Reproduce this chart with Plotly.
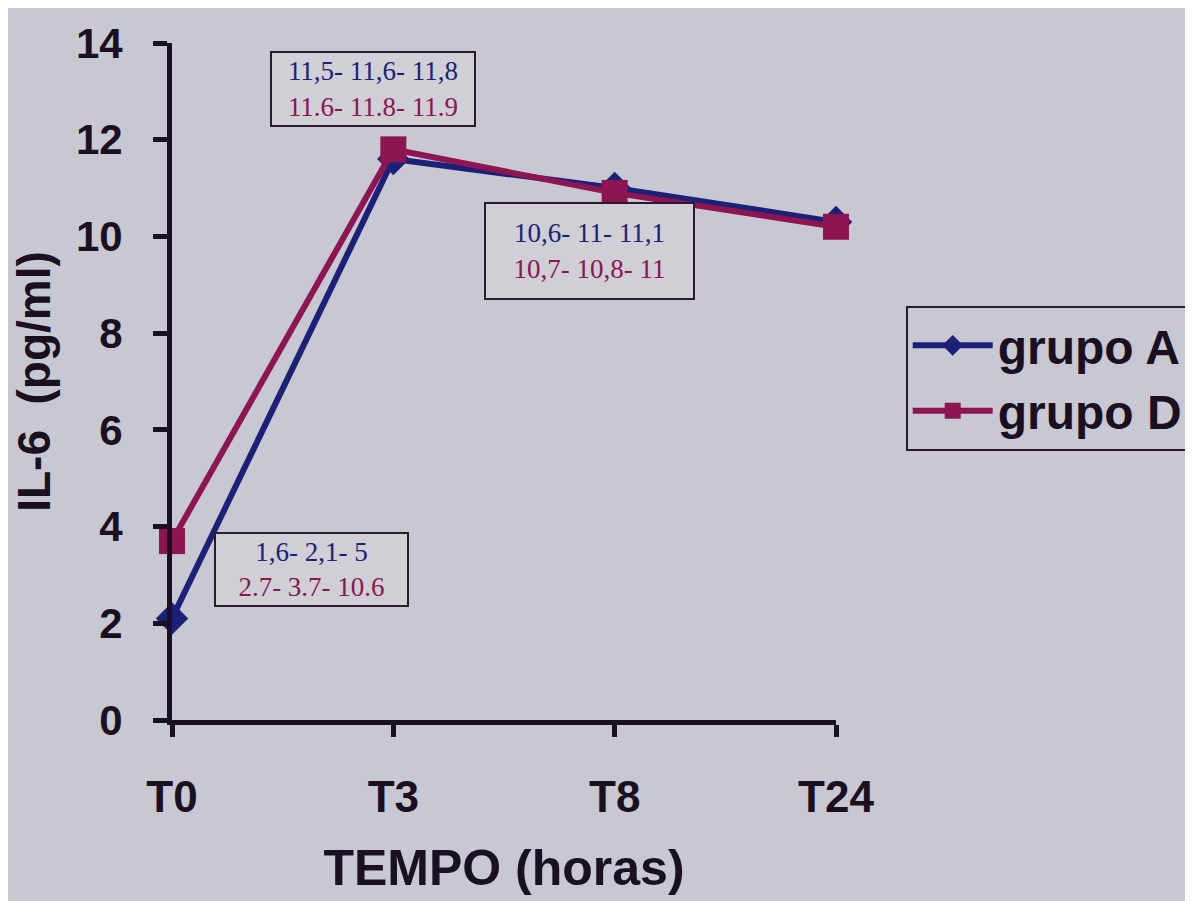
import plotly.graph_objects as go

categories = ["T0", "T3", "T8", "T24"]
grupo_a = [2.1, 11.6, 11.0, 10.3]
grupo_d = [3.7, 11.8, 10.9, 10.2]
y_ticks = [0, 2, 4, 6, 8, 10, 12, 14]

# annotation texts: (blue line, magenta line)
ann_a = ["1,6- 2,1- 5", "11,5- 11,6- 11,8", "10,6- 11- 11,1", "10,2- 10,2- 10,4"]
ann_d = ["2.7- 3.7- 10.6", "11.6- 11.8- 11.9", "10,7- 10,8- 11", "10- 10,2- 10,5"]

BLUE = "#1c2178"
MAG = "#8c1552"
BG = "#c8c8d2"
INK = "#1a1020"

x_idx = list(range(len(categories)))

fig = go.Figure()
fig.add_trace(go.Scatter(
    x=x_idx, y=grupo_a, name="<b>grupo A</b>", mode="lines+markers",
    line=dict(color=BLUE, width=6),
    marker=dict(symbol="diamond", size=25, color=BLUE),
    cliponaxis=False,
))
fig.add_trace(go.Scatter(
    x=x_idx, y=grupo_d, name="<b>grupo D</b>", mode="lines+markers",
    line=dict(color=MAG, width=6),
    marker=dict(symbol="square", size=26, color=MAG),
    cliponaxis=False,
))

# annotation boxes positions (data coords) and sizes
ann_pos = [(0.63, 3.12, 195, 75), (0.91, 13.04, 206, 76), (1.886, 9.70, 211, 98), (3.21, 11.88, 222, 81)]
for (ax, ay, w, h), ta, td in zip(ann_pos, ann_a, ann_d):
    fig.add_annotation(
        x=ax, y=ay, xref="x", yref="y", showarrow=False,
        text=f"<span style='color:{BLUE}'>{ta}</span><br><span style='color:{MAG}'>{td}</span>",
        font=dict(family="Liberation Serif, Times New Roman, serif", size=27),
        align="center", width=w - 4, height=h - 4,
        bgcolor="#cfcfd5", bordercolor="#2a1a30", borderwidth=2, borderpad=0,
    )

fig.update_layout(
    width=1193, height=901,
    paper_bgcolor=BG, plot_bgcolor=BG,
    margin=dict(l=164, r=361, t=25, b=189),
    font=dict(family="Liberation Sans, Arial, sans-serif", color=INK),
    showlegend=True,
    legend=dict(
        x=1.105, y=0.505, xanchor="left", yanchor="middle",
        bgcolor=BG, bordercolor="#2a1a30", borderwidth=2,
        font=dict(size=48, family="Liberation Sans, Arial, sans-serif", color=INK),
        itemwidth=80, tracegroupgap=10,
    ),
    xaxis=dict(
        range=[0, 3], tickvals=x_idx, ticktext=[f"<b>{c}</b>" for c in categories],
        showgrid=False, zeroline=False, showline=True, linecolor=INK, linewidth=5,
        ticks="outside", ticklen=12, tickwidth=5, tickcolor=INK,
        tickfont=dict(size=44), ticklabelstandoff=22,
        title=dict(text="<b>TEMPO (horas)</b>", font=dict(size=50), standoff=32),
    ),
    yaxis=dict(
        range=[0, 14], tickvals=y_ticks, ticktext=[f"<b>{v}</b>" for v in y_ticks],
        showgrid=False, zeroline=False, showline=True, linecolor=INK, linewidth=5,
        ticks="outside", ticklen=14, tickwidth=5, tickcolor=INK,
        tickfont=dict(size=42), ticklabelstandoff=22,
        title=dict(text="<b>IL-6  (pg/ml)</b>", font=dict(size=46), standoff=20),
    ),
)

fig.write_html("out.html")
